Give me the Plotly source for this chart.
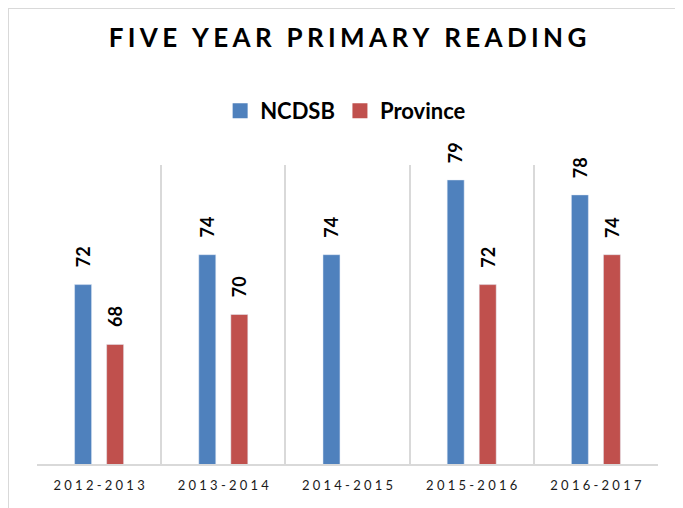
import plotly.graph_objects as go

categories = ["2012-2013", "2013-2014", "2014-2015", "2015-2016", "2016-2017"]
ncdsb = [72, 74, 74, 79, 78]
province = [68, 70, None, 72, 74]
series_names = ["NCDSB", "Province"]
title_text = "FIVE YEAR PRIMARY READING"

BLUE = "#4F81BD"
RED = "#C0504D"
GRID = "#D9D9D9"
FONT = "Lato"

SP_TITLE = "\u2006"
SP_TICK = "\u2005"

W, H = 675, 500
L, R, T, B = 29, 25, 157, 44
PW, PH = W - L - R, H - T - B
LEGEND_CENTER_PX = 103  # from figure top


def spaced(s, sp):
    return sp.join(list(s))


tick_text = [spaced(c, SP_TICK) for c in categories]

fig = go.Figure()
fig.add_trace(go.Bar(x=categories, y=ncdsb, name=series_names[0], marker_color=BLUE,
                     showlegend=False, hoverinfo="x+y"))
fig.add_trace(go.Bar(x=categories, y=province, name=series_names[1], marker_color=RED,
                     showlegend=False, hoverinfo="x+y"))
# legend entries
for nm, col in zip(series_names, [BLUE, RED]):
    fig.add_trace(go.Scatter(x=[None], y=[None], mode="markers", name=nm,
                             marker=dict(symbol="square", size=15, color=col)))

annotations = []
for vals, shift in [(ncdsb, -16), (province, 16)]:
    for c, v in zip(categories, vals):
        if v is None:
            continue
        annotations.append(dict(x=c, y=v, xref="x", yref="y", text=str(v),
                                showarrow=False, textangle=-90, xanchor="center",
                                yanchor="bottom", xshift=shift, yshift=15,
                                font=dict(family=FONT, size=18, color="#000000", weight="bold")))

fig.update_layout(
    width=W, height=H,
    margin=dict(l=L, r=R, t=T, b=B),
    paper_bgcolor="white", plot_bgcolor="white",
    barmode="group", bargap=0.484, bargroupgap=0.47,
    title=dict(text=spaced(title_text, SP_TITLE), x=0.5, xref="paper", xanchor="center",
               y=1 - 30 / H, yref="container", yanchor="middle",
               font=dict(family=FONT, size=26, color="#000000", weight="bold")),
    legend=dict(orientation="h", x=0.497, xanchor="center",
                y=1 + (T - LEGEND_CENTER_PX) / PH, yanchor="middle",
                font=dict(family=FONT, size=22, color="#000000", weight="bold"),
                bgcolor="rgba(0,0,0,0)"),
    xaxis=dict(type="category", tickmode="array", tickvals=categories, ticktext=tick_text,
               tickson="boundaries", showgrid=True, gridcolor=GRID, gridwidth=2,
               showline=True, linecolor=GRID, linewidth=2, ticks="", ticklen=0,
               ticklabelstandoff=8,
               tickfont=dict(family=FONT, size=13, color="#1a1a1a"),
               range=[-0.5, 4.5]),
    yaxis=dict(range=[60, 80], showgrid=False, showticklabels=False, zeroline=False,
               showline=False, ticks=""),
    annotations=annotations,
    shapes=[dict(type="rect", xref="paper", yref="paper",
                 x0=-L / PW, x1=(W + 20 - L) / PW,
                 y0=-(B + 20) / PH, y1=(PH + T) / PH,
                 line=dict(color=GRID, width=2), fillcolor="rgba(0,0,0,0)", layer="below")],
)

fig.write_html("out.html")
